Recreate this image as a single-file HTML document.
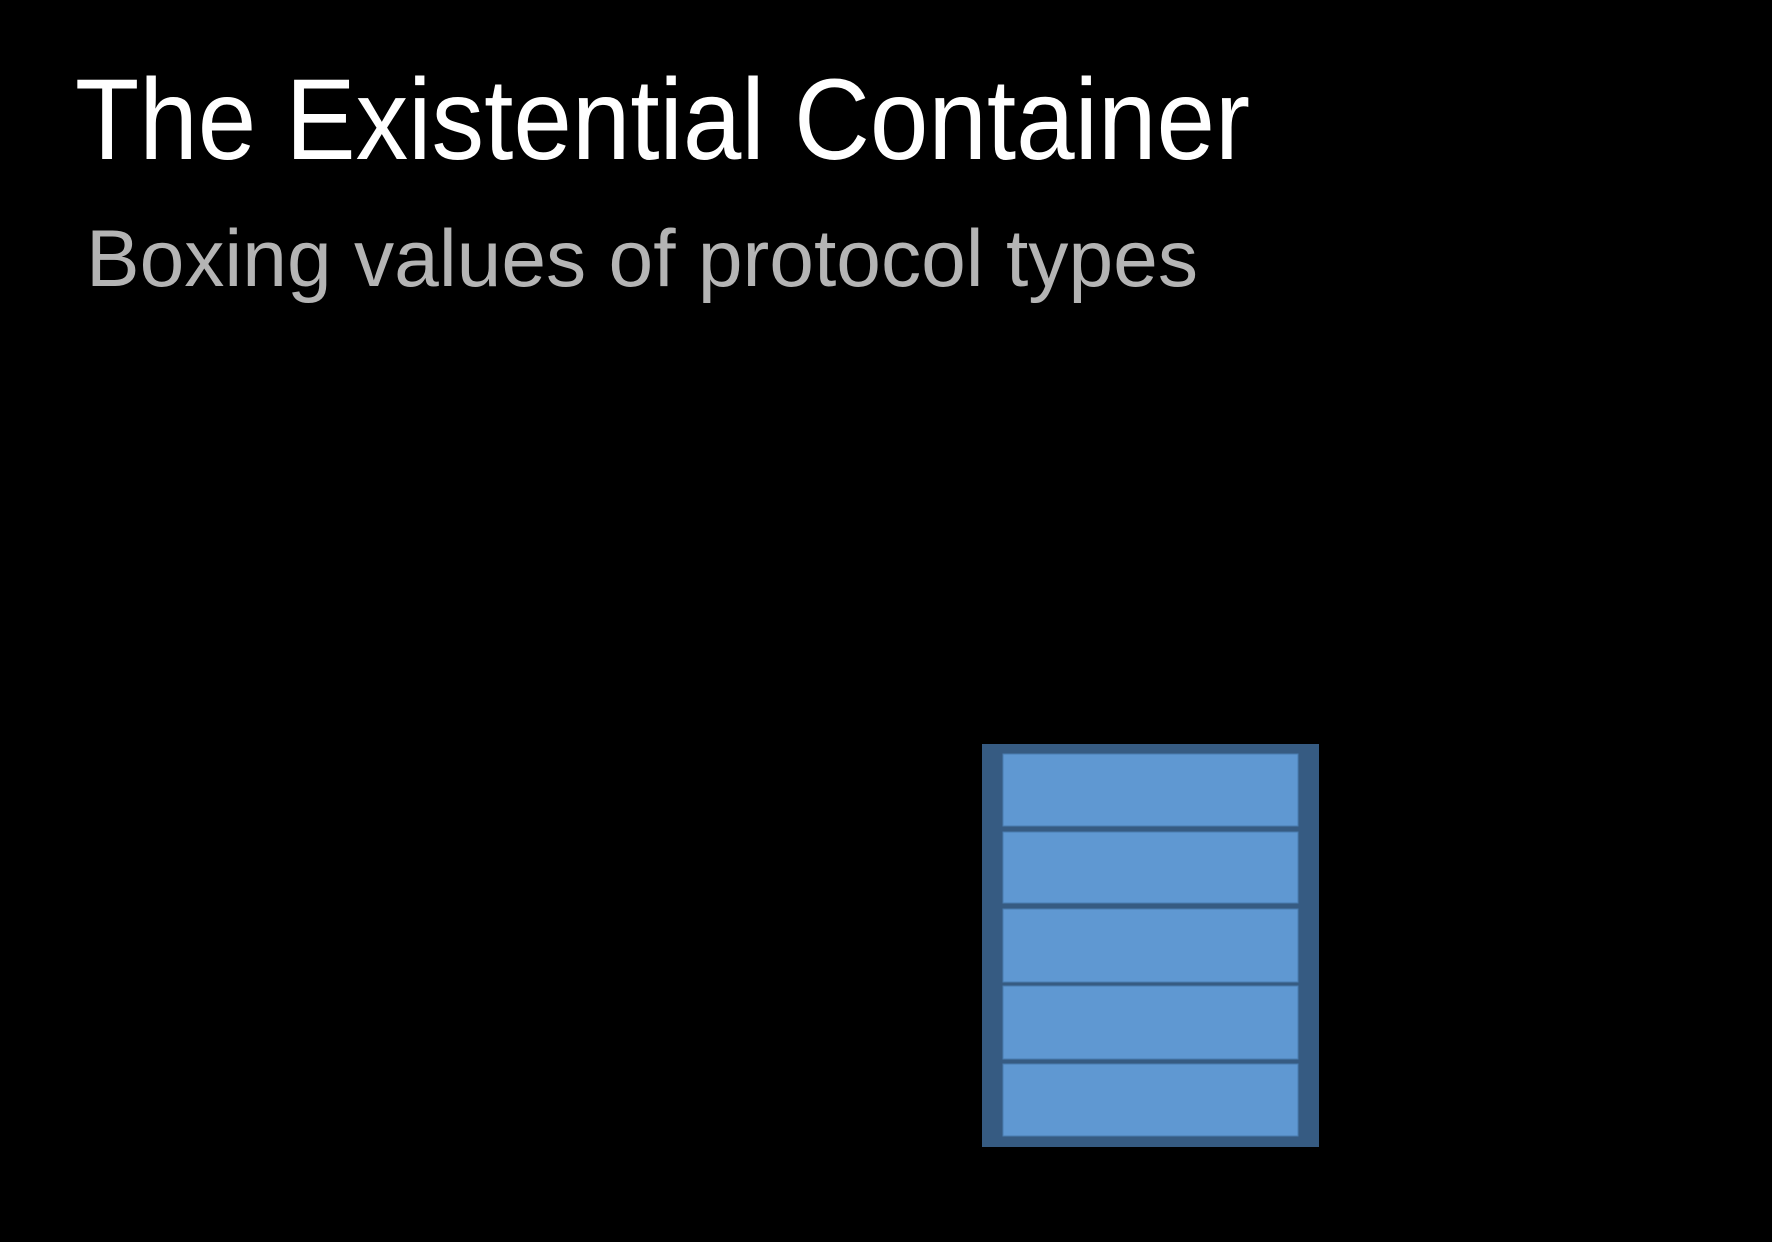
<!DOCTYPE html>
<html><head><style>
html,body{margin:0;padding:0;background:#000;}
svg{display:block;}
</style></head><body>
<svg width="1772" height="1242" xmlns="http://www.w3.org/2000/svg">
<rect width="1772" height="1242" fill="#000"/>
<text x="75" y="159" font-family="Liberation Sans, sans-serif" font-size="115" fill="#fff" textLength="1175" lengthAdjust="spacingAndGlyphs">The Existential Container</text>
<text x="86" y="286" font-family="Liberation Sans, sans-serif" font-size="81" fill="#b4b4b4" textLength="1112" lengthAdjust="spacingAndGlyphs">Boxing values of protocol types</text>
<rect x="982" y="744" width="337" height="403" fill="#365b82"/>
<g fill="#5f98d2" stroke="#4a7cb0" stroke-width="1">
<rect x="1003" y="754" width="295" height="72"/>
<rect x="1003" y="832" width="295" height="71"/>
<rect x="1003" y="909" width="295" height="73"/>
<rect x="1003" y="986" width="295" height="73"/>
<rect x="1003" y="1064" width="295" height="72"/>
</g>
</svg>
</body></html>
